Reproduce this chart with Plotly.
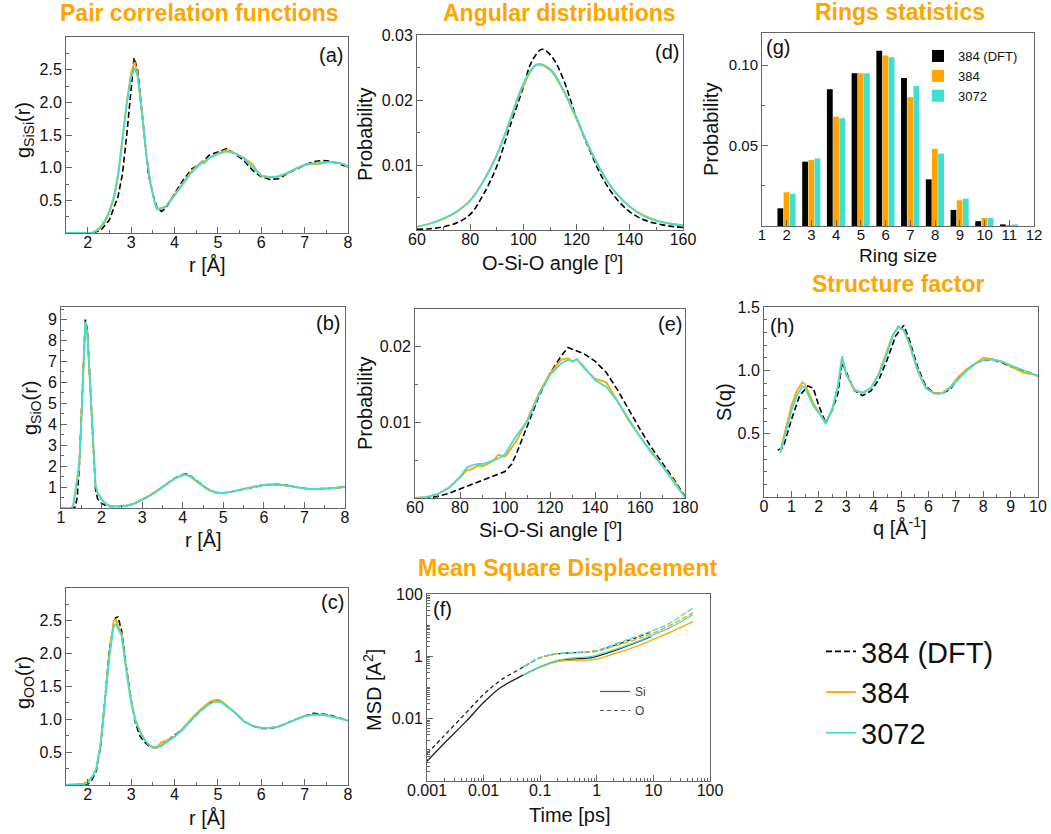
import plotly.graph_objects as go

W, H = 1051, 834
ORANGE = "#FFA500"
CYAN = "#40E0D0"
FONT = "Liberation Sans, Arial, sans-serif"

# ---------------- (a) g_SiSi ----------------
r_a = [1.5, 2.0, 2.1, 2.2, 2.3, 2.4, 2.5, 2.6, 2.7, 2.8, 2.9, 3.0, 3.08, 3.15, 3.25, 3.35, 3.45, 3.55, 3.6, 3.7,
       3.8, 3.9, 4.0, 4.2, 4.4, 4.6, 4.7, 4.8, 5.0, 5.2, 5.4, 5.6, 5.8, 5.9, 6.0, 6.2, 6.4, 6.6, 6.8, 7.0,
       7.2, 7.3, 7.5, 7.7, 7.9, 8.0]
g_a_384 = [0, 0, 0, 0.03, 0.08, 0.17, 0.32, 0.52, 0.85, 1.4, 2.0, 2.45, 2.62, 2.45, 1.85, 1.2, 0.75, 0.45, 0.37, 0.38,
           0.4, 0.5, 0.58, 0.77, 0.95, 1.08, 1.07, 1.15, 1.22, 1.27, 1.22, 1.15, 1.05, 0.95, 0.87, 0.86, 0.86, 0.91, 0.98, 1.05,
           1.06, 1.05, 1.08, 1.08, 1.05, 1.0]
g_a_3072 = [0, 0, 0, 0.04, 0.1, 0.2, 0.33, 0.55, 0.9, 1.45, 1.98, 2.38, 2.53, 2.4, 1.85, 1.2, 0.75, 0.45, 0.36, 0.37,
            0.41, 0.49, 0.57, 0.76, 0.93, 1.06, 1.1, 1.15, 1.21, 1.25, 1.22, 1.14, 1.0, 0.94, 0.88, 0.85, 0.87, 0.92, 0.99, 1.04,
            1.07, 1.08, 1.08, 1.08, 1.06, 1.02]
r_a_dft = [1.5, 2.0, 2.1, 2.3, 2.5, 2.7, 2.8, 2.9, 3.0, 3.07, 3.15, 3.25, 3.4, 3.5, 3.6, 3.7, 3.8, 4.0, 4.2, 4.4,
           4.6, 4.8, 5.0, 5.2, 5.4, 5.6, 5.8, 6.0, 6.2, 6.4, 6.6, 6.8, 7.0, 7.2, 7.4, 7.6, 7.8, 8.0]
g_a_dft = [0, 0, 0, 0.04, 0.2, 0.56, 0.9, 1.5, 2.27, 2.68, 2.5, 1.87, 0.9, 0.6, 0.38, 0.33, 0.38, 0.6, 0.81, 0.98,
           1.06, 1.19, 1.24, 1.29, 1.21, 1.11, 0.96, 0.86, 0.82, 0.83, 0.91, 0.98, 1.04, 1.09, 1.11, 1.1, 1.05, 1.01]

# ---------------- (b) g_SiO ----------------
r_b = [1.0, 1.25, 1.3, 1.35, 1.4, 1.45, 1.5, 1.55, 1.6, 1.65, 1.7, 1.75, 1.8, 1.85, 1.9, 2.0, 2.1, 2.2, 2.4, 2.6,
       2.8, 3.0, 3.2, 3.4, 3.6, 3.8, 4.0, 4.1, 4.2, 4.4, 4.6, 4.8, 5.0, 5.2, 5.4, 5.6, 5.8, 6.0, 6.2, 6.4,
       6.6, 6.8, 7.0, 7.2, 7.4, 7.6, 7.8, 8.0]
g_b_3072 = [0, 0, 0.1, 0.8, 1.5, 2.1, 4.2, 6.6, 8.9, 8.3, 6.4, 4.2, 2.3, 1.1, 0.75, 0.42, 0.2, 0.1, 0.07, 0.1,
            0.2, 0.38, 0.6, 0.85, 1.12, 1.4, 1.57, 1.58, 1.5, 1.2, 0.92, 0.75, 0.72, 0.78, 0.86, 0.95, 1.03, 1.1, 1.13, 1.12,
            1.07, 1.0, 0.94, 0.91, 0.91, 0.93, 0.97, 1.01]
g_b_384 = [0, 0, 0.1, 0.75, 1.45, 2.0, 4.1, 6.5, 8.85, 8.35, 6.5, 4.3, 2.35, 1.1, 0.72, 0.4, 0.2, 0.1, 0.08, 0.12,
           0.22, 0.4, 0.62, 0.87, 1.15, 1.42, 1.58, 1.57, 1.48, 1.18, 0.9, 0.73, 0.71, 0.78, 0.87, 0.96, 1.04, 1.1, 1.12, 1.11,
           1.06, 0.99, 0.93, 0.9, 0.92, 0.94, 0.97, 1.0]
g_b_dft = [0, 0, 0, 0.05, 0.5, 2.0, 4.4, 7.0, 9.0, 8.5, 6.6, 4.2, 2.1, 0.9, 0.45, 0.22, 0.12, 0.08, 0.07, 0.1,
           0.2, 0.38, 0.6, 0.86, 1.13, 1.42, 1.6, 1.62, 1.52, 1.2, 0.92, 0.75, 0.72, 0.78, 0.86, 0.95, 1.03, 1.1, 1.13, 1.12,
           1.07, 1.0, 0.94, 0.91, 0.91, 0.93, 0.97, 1.01]

# ---------------- (c) g_OO ----------------
r_c = [1.5, 1.9, 2.0, 2.1, 2.2, 2.3, 2.4, 2.5, 2.6, 2.65, 2.7, 2.78, 2.9, 3.0, 3.1, 3.2, 3.3, 3.4, 3.5, 3.6,
       3.7, 3.8, 3.9, 4.0, 4.2, 4.4, 4.6, 4.8, 4.9, 5.0, 5.1, 5.2, 5.4, 5.6, 5.8, 6.0, 6.2, 6.4, 6.6, 6.8,
       7.0, 7.2, 7.4, 7.6, 7.8, 8.0]
g_c_3072 = [0, 0.01, 0.03, 0.12, 0.25, 0.65, 1.3, 1.95, 2.42, 2.45, 2.38, 2.28, 1.7, 1.25, 0.98, 0.82, 0.7, 0.62, 0.58, 0.57,
            0.6, 0.64, 0.69, 0.73, 0.85, 1.0, 1.13, 1.23, 1.26, 1.27, 1.25, 1.2, 1.1, 0.97, 0.9, 0.87, 0.87, 0.89, 0.94, 1.0,
            1.05, 1.07, 1.07, 1.05, 1.02, 0.98]
g_c_384 = [0, 0.02, 0.05, 0.12, 0.25, 0.62, 1.3, 2.0, 2.5, 2.52, 2.42, 2.3, 1.72, 1.3, 1.0, 0.83, 0.7, 0.62, 0.57, 0.58,
           0.65, 0.67, 0.7, 0.74, 0.87, 1.02, 1.15, 1.26, 1.29, 1.3, 1.27, 1.21, 1.1, 0.97, 0.9, 0.87, 0.87, 0.89, 0.95, 1.0,
           1.05, 1.07, 1.07, 1.05, 1.02, 0.98]
g_c_dft = [0, 0, 0.01, 0.08, 0.22, 0.6, 1.3, 2.05, 2.45, 2.55, 2.56, 2.35, 1.75, 1.3, 0.95, 0.75, 0.66, 0.6, 0.57, 0.57,
           0.6, 0.65, 0.7, 0.75, 0.86, 1.0, 1.13, 1.24, 1.27, 1.28, 1.26, 1.2, 1.1, 0.97, 0.9, 0.86, 0.86, 0.89, 0.95, 1.0,
           1.05, 1.09, 1.08, 1.06, 1.02, 0.98]

# ---------------- (d) O-Si-O ----------------
ang_d = [60, 65, 70, 75, 80, 85, 90, 95, 100, 105, 110, 115, 120, 125, 130, 135, 140, 145, 150, 155, 160]
p_d_384 = [0.0005, 0.001, 0.0017, 0.0028, 0.0046, 0.0076, 0.0116, 0.0168, 0.0222, 0.0254, 0.0246, 0.0214, 0.017, 0.0124,
           0.0085, 0.0056, 0.0036, 0.0023, 0.0015, 0.001, 0.0007]
p_d_3072 = [0.0005, 0.001, 0.0018, 0.0029, 0.0045, 0.0075, 0.0115, 0.017, 0.0225, 0.0255, 0.0248, 0.0216, 0.0172, 0.0125,
            0.0086, 0.0056, 0.0036, 0.0022, 0.0014, 0.001, 0.0007]
ang_d_dft = [60, 65, 70, 75, 80, 85, 90, 95, 100, 103, 107, 111, 115, 120, 125, 130, 135, 140, 145, 150, 155, 160]
p_d_dft = [0.0001, 0.0002, 0.0005, 0.0011, 0.0024, 0.0055, 0.0098, 0.016, 0.022, 0.0258, 0.0278, 0.0265, 0.0232, 0.0172,
           0.0122, 0.0078, 0.0048, 0.0028, 0.0016, 0.001, 0.0006, 0.0004]

# ---------------- (e) Si-O-Si ----------------
ang_e = [60, 65, 70, 75, 80, 83, 85, 88, 90, 93, 95, 97, 100, 105, 110, 115, 120, 125, 128, 130, 132, 135, 140, 145,
         150, 155, 160, 165, 170, 175, 180]
p_e_384 = [0, 0.0001, 0.0005, 0.0014, 0.0027, 0.0037, 0.0038, 0.0043, 0.0042, 0.0046, 0.005, 0.0057, 0.0055, 0.0075,
           0.0104, 0.0138, 0.0165, 0.0183, 0.0185, 0.018, 0.0184, 0.0172, 0.0158, 0.0153, 0.0128, 0.0102, 0.0081, 0.0062,
           0.0043, 0.0023, 0.0001]
p_e_3072 = [0, 0.0001, 0.0005, 0.0013, 0.0028, 0.004, 0.0043, 0.0045, 0.0045, 0.0048, 0.005, 0.0052, 0.0058, 0.0082,
            0.0102, 0.0136, 0.0163, 0.0178, 0.0183, 0.0181, 0.0183, 0.0174, 0.0156, 0.0147, 0.0128, 0.0105, 0.0081, 0.006,
            0.0042, 0.0021, 0.0001]
ang_e_dft = [60, 65, 70, 75, 80, 85, 90, 95, 100, 103, 105, 110, 115, 120, 125, 128, 130, 135, 140, 145, 150, 155, 160,
             165, 170, 175, 180]
p_e_dft = [0, 0, 0.0002, 0.0006, 0.0012, 0.0018, 0.0024, 0.0029, 0.0035, 0.0045, 0.0058, 0.0096, 0.0134, 0.0165, 0.0188,
           0.0199, 0.0197, 0.0191, 0.0181, 0.0166, 0.0143, 0.0117, 0.0091, 0.0067, 0.0046, 0.0025, 0.0002]

# ---------------- (f) MSD ----------------
t_dft = [0.001, 0.002, 0.005, 0.01, 0.02, 0.05, 0.1, 0.2, 0.3, 0.5, 0.7, 1, 2, 5, 9]
msd_si_dft = [4.3e-4, 1.6e-3, 0.0085, 0.033, 0.1, 0.25, 0.46, 0.72, 0.8, 0.84, 0.87, 1.0, 1.5, 2.8, 4.3]
msd_o_dft = [7.6e-4, 2.8e-3, 0.016, 0.06, 0.17, 0.45, 0.9, 1.2, 1.28, 1.33, 1.38, 1.5, 2.2, 4.0, 6.1]
t_md = [0.05, 0.1, 0.2, 0.3, 0.5, 0.7, 1, 2, 5, 10, 20, 50]
msd_si_384 = [0.25, 0.45, 0.68, 0.74, 0.76, 0.76, 0.82, 1.2, 2.1, 3.5, 6.0, 13]
msd_o_384 = [0.45, 0.9, 1.2, 1.27, 1.3, 1.33, 1.45, 2.1, 3.5, 5.6, 10, 25]
msd_si_3072 = [0.25, 0.47, 0.74, 0.85, 0.92, 0.96, 1.1, 1.6, 2.9, 5.0, 8.5, 22]
msd_o_3072 = [0.45, 0.92, 1.24, 1.31, 1.36, 1.4, 1.55, 2.4, 4.3, 6.8, 12, 36]

# ---------------- (g) rings ----------------
ring_size = [2, 3, 4, 5, 6, 7, 8, 9, 10, 11]
ring_dft = [0.011, 0.040, 0.085, 0.095, 0.109, 0.092, 0.029, 0.010, 0.003, 0.001]
ring_384 = [0.021, 0.041, 0.068, 0.095, 0.106, 0.080, 0.048, 0.016, 0.005, 0.0006]
ring_3072 = [0.020, 0.042, 0.067, 0.095, 0.105, 0.087, 0.045, 0.017, 0.005, 0.001]

# ---------------- (h) S(q) ----------------
q_h = [0.6, 0.8, 1.0, 1.2, 1.4, 1.5, 1.8, 2.0, 2.25, 2.5, 2.7, 2.85, 3.0, 3.3, 3.6, 3.9, 4.2, 4.5, 4.7, 4.9,
       5.1, 5.3, 5.6, 5.9, 6.2, 6.5, 6.8, 7.1, 7.4, 7.7, 8.0, 8.3, 8.7, 9.0, 9.5, 10.0]
s_h_3072 = [0.35, 0.52, 0.68, 0.8, 0.876, 0.86, 0.72, 0.666, 0.58, 0.705, 0.876, 1.113, 0.97, 0.85, 0.818, 0.863, 0.97,
            1.14, 1.27, 1.35, 1.32, 1.22, 1.01, 0.863, 0.816, 0.818, 0.863, 0.93, 0.997, 1.05, 1.08, 1.087, 1.066, 1.04,
            1.0, 0.955]
s_h_384 = [0.37, 0.55, 0.72, 0.84, 0.905, 0.89, 0.74, 0.67, 0.585, 0.69, 0.88, 1.1, 0.97, 0.84, 0.825, 0.86, 0.98,
           1.16, 1.28, 1.34, 1.32, 1.21, 1.0, 0.86, 0.82, 0.82, 0.87, 0.95, 1.01, 1.05, 1.1, 1.09, 1.07, 1.03, 0.98, 0.96]
q_h_dft = [0.5, 0.7, 1.0, 1.3, 1.6, 1.8, 2.0, 2.25, 2.5, 2.7, 2.85, 3.1, 3.3, 3.6, 3.9, 4.2, 4.5, 4.8, 5.1, 5.3,
           5.6, 5.9, 6.2, 6.5, 6.8, 7.1, 7.4, 7.7, 8.0, 8.3, 8.7, 9.0, 9.5, 10.0]
s_h_dft = [0.37, 0.39, 0.61, 0.8, 0.876, 0.86, 0.72, 0.587, 0.69, 0.82, 1.06, 0.93, 0.84, 0.8, 0.837, 0.93, 1.087,
           1.27, 1.355, 1.245, 1.03, 0.876, 0.82, 0.818, 0.85, 0.944, 1.0, 1.055, 1.08, 1.087, 1.06, 1.03, 0.997, 0.955]

# ---------------- layout helpers ----------------
# panel frames in pixels: left, right, top, bottom
frames = {
    1: (66, 348, 37, 233),
    2: (61, 345, 307, 508),
    3: (66, 348, 588, 785),
    4: (417, 683, 35, 230),
    5: (415, 685, 309, 498),
    6: (427, 710, 594, 781),
    7: (762, 1034, 33, 226),
    8: (764, 1038, 307, 497),
}
FRAME = "#666666"


def axis(n, dim, rng, tickvals, fmt=None, minor_dtick=None, log=False, ticktext=None, fsize=16):
    l, r, t, b = frames[n]
    d = dict(
        range=rng, showgrid=False, zeroline=False, showline=True, linecolor=FRAME, linewidth=1,
        mirror=True, ticks="inside", ticklen=6, tickcolor=FRAME,
        tickfont=dict(family=FONT, size=fsize, color="#111111"),
        tickmode="array", tickvals=tickvals, automargin=False,
        ticklabelstandoff=-5 if dim == "x" else 0,
        ticklabeloverflow="allow",
    )
    if ticktext is not None:
        d["ticktext"] = ticktext
    elif fmt:
        d["tickformat"] = fmt
    if log:
        d["type"] = "log"
        d["minor"] = dict(ticks="inside", ticklen=3, tickcolor=FRAME, tickmode="linear", dtick="D1")
    elif minor_dtick:
        d["minor"] = dict(ticks="inside", ticklen=3, tickcolor=FRAME, tickmode="linear", dtick=minor_dtick,
                          tick0=0)
    if dim == "x":
        d["domain"] = [l / W, r / W]
        d["anchor"] = "y" if n == 1 else f"y{n}"
    else:
        d["domain"] = [1 - b / H, 1 - t / H]
        d["anchor"] = "x" if n == 1 else f"x{n}"
    return d


def ax(n):
    return ("x" if n == 1 else f"x{n}", "y" if n == 1 else f"y{n}")


fig = go.Figure()

dft_line = dict(color="black", width=1.6, dash="6px,3px")
o_line = dict(color=ORANGE, width=1.8)
c_line = dict(color=CYAN, width=1.8)


def add_three(n, x_dft, y_dft, x_md, y_384, y_3072, shape="linear", legend=False):
    xa, ya = ax(n)
    fig.add_trace(go.Scatter(x=x_dft, y=y_dft, mode="lines", line=dict(dft_line, shape=shape), name="384 (DFT)",
                             showlegend=legend, xaxis=xa, yaxis=ya))
    fig.add_trace(go.Scatter(x=x_md, y=y_384, mode="lines", line=dict(o_line, shape=shape), name="384",
                             showlegend=legend, xaxis=xa, yaxis=ya))
    fig.add_trace(go.Scatter(x=x_md, y=y_3072, mode="lines", line=dict(c_line, shape=shape), name="3072",
                             showlegend=legend, xaxis=xa, yaxis=ya))


add_three(1, r_a_dft, g_a_dft, r_a, g_a_384, g_a_3072, legend=True)
add_three(2, r_b, g_b_dft, r_b, g_b_384, g_b_3072)
add_three(3, r_c, g_c_dft, r_c, g_c_384, g_c_3072)
add_three(4, ang_d_dft, p_d_dft, ang_d, p_d_384, p_d_3072, shape="spline")
add_three(5, ang_e_dft, p_e_dft, ang_e, p_e_384, p_e_3072)
add_three(8, q_h_dft, s_h_dft, q_h, s_h_384, s_h_3072)

# MSD
xa, ya = ax(6)
for tt, yy, col, dash in [
    (t_dft, msd_si_dft, "#222222", "solid"), (t_dft, msd_o_dft, "#222222", "4px,3px"),
    (t_md, msd_si_384, ORANGE, "solid"), (t_md, msd_o_384, ORANGE, "6px,2px"),
    (t_md, msd_si_3072, CYAN, "solid"), (t_md, msd_o_3072, CYAN, "6px,2px"),
]:
    fig.add_trace(go.Scatter(x=tt, y=yy, mode="lines", line=dict(color=col, width=1.3, dash=dash, shape="spline"),
                             showlegend=False, xaxis=xa, yaxis=ya))
# Si / O key (legend entries only)
fig.add_trace(go.Scatter(x=[None], y=[None], mode="lines", line=dict(color="#555555", width=1.2),
                         name="Si", legend="legend3", xaxis=xa, yaxis=ya))
fig.add_trace(go.Scatter(x=[None], y=[None], mode="lines", line=dict(color="#555555", width=1.2, dash="4px,3px"),
                         name="O", legend="legend3", xaxis=xa, yaxis=ya))

# Rings bars
xa, ya = ax(7)
for vals, col, off, name in [(ring_dft, "black", -0.375, "384 (DFT)"), (ring_384, ORANGE, -0.125, "384"),
                             (ring_3072, CYAN, 0.125, "3072")]:
    fig.add_trace(go.Bar(x=ring_size, y=vals, width=0.235, offset=off, marker=dict(color=col, line=dict(width=0)),
                         name=name, legend="legend2", xaxis=xa, yaxis=ya))

layout = dict(
    width=W, height=H, margin=dict(l=0, r=0, t=0, b=0),
    paper_bgcolor="white", plot_bgcolor="white", barmode="overlay",
    font=dict(family=FONT, color="#111111"),
    legend=dict(x=821 / W, y=1 - 626 / H, xanchor="left", yanchor="top", font=dict(size=29, family=FONT),
                bgcolor="rgba(0,0,0,0)", itemwidth=30, tracegroupgap=0),
    legend2=dict(x=918 / W, y=1 - 41 / H, xanchor="left", yanchor="top", font=dict(size=13, family=FONT),
                 bgcolor="rgba(0,0,0,0)", itemwidth=30, tracegroupgap=0),
    legend3=dict(x=595 / W, y=1 - 677 / H, xanchor="left", yanchor="top",
                 font=dict(size=12, family=FONT, color="#444444"),
                 bgcolor="rgba(0,0,0,0)", itemwidth=30, tracegroupgap=0),
)

# axes
layout["xaxis"] = axis(1, "x", [1.5, 8], [2, 3, 4, 5, 6, 7, 8], minor_dtick=0.5)
layout["yaxis"] = axis(1, "y", [0, 3], [0.5, 1.0, 1.5, 2.0, 2.5], fmt=".1f", minor_dtick=0.25)
layout["xaxis2"] = axis(2, "x", [1, 8], [1, 2, 3, 4, 5, 6, 7, 8], minor_dtick=0.5)
layout["yaxis2"] = axis(2, "y", [0, 9.6], [1, 2, 3, 4, 5, 6, 7, 8, 9], minor_dtick=0.5)
layout["xaxis3"] = axis(3, "x", [1.5, 8], [2, 3, 4, 5, 6, 7, 8], minor_dtick=0.5)
layout["yaxis3"] = axis(3, "y", [0, 3], [0.5, 1.0, 1.5, 2.0, 2.5], fmt=".1f", minor_dtick=0.25)
layout["xaxis4"] = axis(4, "x", [60, 160], [60, 80, 100, 120, 140, 160], minor_dtick=10)
layout["yaxis4"] = axis(4, "y", [0, 0.03], [0.01, 0.02, 0.03], fmt=".2f", minor_dtick=0.005)
layout["xaxis5"] = axis(5, "x", [60, 180], [60, 80, 100, 120, 140, 160, 180], minor_dtick=10)
layout["yaxis5"] = axis(5, "y", [0, 0.025], [0.01, 0.02], fmt=".2f", minor_dtick=0.005)
layout["xaxis6"] = axis(6, "x", [-3, 2], [0.001, 0.01, 0.1, 1, 10, 100], log=True,
                        ticktext=["0.001", "0.01", "0.1", "1", "10", "100"])
layout["yaxis6"] = axis(6, "y", [-4, 2], [0.01, 1, 100], log=True, ticktext=["0.01", "1", "100"])
layout["xaxis7"] = axis(7, "x", [1, 12], list(range(1, 13)), fsize=15)
layout["yaxis7"] = axis(7, "y", [0, 0.12], [0.05, 0.10], fmt=".2f", minor_dtick=0.025, fsize=15)
layout["xaxis8"] = axis(8, "x", [0, 10], list(range(0, 11)), minor_dtick=0.5)
layout["yaxis8"] = axis(8, "y", [0, 1.5], [0.5, 1.0, 1.5], fmt=".1f", minor_dtick=0.1)

anns = []


def ann(text, x, y, size, color="#111111", bold=False, angle=0):
    anns.append(dict(text=f"<b>{text}</b>" if bold else text, x=x / W, y=1 - y / H, xref="paper", yref="paper",
                     xanchor="center", yanchor="middle", showarrow=False, textangle=angle,
                     font=dict(family=FONT, size=size, color=color)))


# section titles
ann("Pair correlation functions", 199, 13, 23, ORANGE, True)
ann("Angular distributions", 559, 13, 23, ORANGE, True)
ann("Rings statistics", 900, 12, 23, ORANGE, True)
ann("Structure factor", 898, 284, 23, ORANGE, True)
ann("Mean Square Displacement", 567, 568, 23, ORANGE, True)

# panel letters
for txt, x, y in [("(a)", 331, 55), ("(b)", 328, 323), ("(c)", 332, 602), ("(d)", 667, 52), ("(e)", 670, 324),
                  ("(f)", 442, 609), ("(g)", 778, 47), ("(h)", 782, 326)]:
    ann(txt, x, y, 20)

# axis titles
ann("g<sub>SiSi</sub>(r)", 24, 130, 20, angle=-90)
ann("r [Å]", 207, 265, 20)
ann("g<sub>SiO</sub>(r)", 31, 408, 20, angle=-90)
ann("r [Å]", 203, 540, 20)
ann("g<sub>OO</sub>(r)", 24, 683, 20, angle=-90)
ann("r [Å]", 207, 818, 20)
ann("Probability", 365, 135, 20, angle=-90)
ann("O-Si-O angle [<sup>o</sup>]", 552, 261, 20)
ann("Probability", 365, 404, 20, angle=-90)
ann("Si-O-Si angle [<sup>o</sup>]", 550, 528, 20)
ann("MSD [A<sup>2</sup>]", 372, 690, 20, angle=-90)
ann("Time [ps]", 570, 815, 20)
ann("Probability", 711, 130, 20, angle=-90)
ann("Ring size", 898, 255, 19)
ann("S(q)", 724, 402, 20, angle=-90)
ann("q [Å<sup>-1</sup>]", 900, 526, 20)

layout["annotations"] = anns
fig.update_layout(**layout)

fig.write_html("out.html", config={"displayModeBar": False, "staticPlot": True},
               post_script="document.body.style.margin='0';document.body.style.overflow='hidden';")
